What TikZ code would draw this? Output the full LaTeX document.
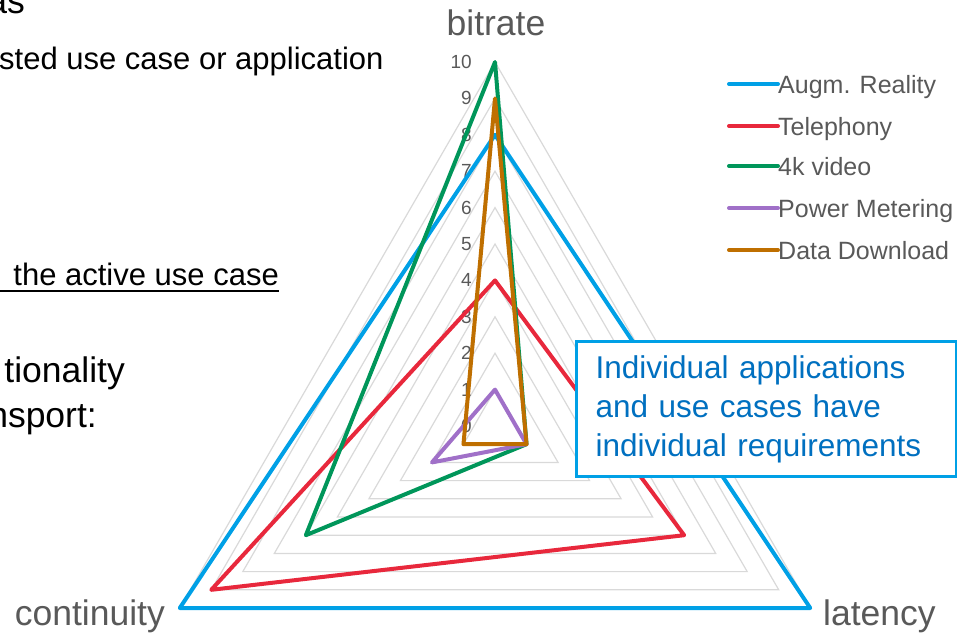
\documentclass[tikz,border=0pt]{standalone}
\usepackage{fontspec}
\setmainfont{Liberation Sans}
\definecolor{labelgray}{HTML}{595959}
\definecolor{gridgray}{HTML}{D9D9D9}
\definecolor{arblue}{HTML}{00A0E6}
\definecolor{telred}{HTML}{E8283C}
\definecolor{vidgreen}{HTML}{00965A}
\definecolor{meterpurple}{HTML}{A070C8}
\definecolor{dlbrown}{HTML}{BF6F00}
\definecolor{calloutblue}{HTML}{0070C0}
\newcommand\radarseries[4]{%
  \draw[series,#1] (270:{#2*36.4}) -- (30:{#3*36.4}) -- (150:{#4*36.4}) -- cycle;}
\begin{document}
\begin{tikzpicture}[x=1pt,y=-1pt,
  bodytext/.style={inner sep=0pt,font=\fontsize{31}{37}\selectfont},
  bigtext/.style={inner sep=0pt,font=\fontsize{35.5}{42}\selectfont},
  axislbl/.style={inner sep=0pt,text=labelgray,font=\fontsize{35.5}{42}\selectfont},
  ticklbl/.style={inner sep=0pt,text=labelgray,font=\fontsize{19}{22}\selectfont},
  legendtxt/.style={inner sep=0pt,text=labelgray,font=\fontsize{25}{30}\selectfont},
  legendline/.style={line width=4pt,line cap=round},
  gridln/.style={gridgray,line width=1.2pt},
  series/.style={line width=4pt,line join=round},
  callout/.style={draw=arblue,line width=3pt,fill=white,text=calloutblue,
    align=left,text width=342pt,inner xsep=19pt,inner ysep=14pt,
    minimum width=380pt,minimum height=135pt,
    font=\fontsize{31.5}{39}\selectfont}]
\useasboundingbox (0,0) rectangle (957,633);

% slide text on the left, partly cut by the frame
\node[bigtext,anchor=base east] (tAs) at (25,13) {as};
\node[bodytext,anchor=base west] (tApp) at (-1,69) {sted use case or application};
\node[bodytext,anchor=base east] (tActive) at (279,285) {the active use case};
\draw[line width=2pt] (0,291) -- (tActive.base east |- 0,291);
\node[bigtext,anchor=base east] (tFunc) at (125,382) {tionality};
\node[bigtext,anchor=base east] (tTrans) at (97,427) {nsport:};

% radar grid and series
\begin{scope}[shift={(495,426)}]
  \foreach \k in {1,...,10}
    \draw[gridln] (270:{\k*36.4}) -- (30:{\k*36.4}) -- (150:{\k*36.4}) -- cycle;
\end{scope}
\foreach \k in {0,...,10}
  \node[ticklbl,anchor=east] (tick\k) at (472,{426-\k*36.4}) {\k};
\begin{scope}[shift={(495,426)}]
  \radarseries{arblue}{8}{10}{10}
  \radarseries{telred}{4}{6}{9}
  \radarseries{vidgreen}{10}{1}{6}
  \radarseries{meterpurple}{1}{1}{2}
  \radarseries{dlbrown}{9}{1}{1}
\end{scope}

% axis titles
\node[axislbl,anchor=base] (axBitrate) at (496,35) {bitrate};
\node[axislbl,anchor=base west] (axLatency) at (823,625) {latency};
\node[axislbl,anchor=base east] (axCont) at (165,625) {continuity};

% legend
\coordinate (lg1) at (729,84);
\coordinate (lg2) at (729,126);
\coordinate (lg3) at (729,166);
\coordinate (lg4) at (729,208);
\coordinate (lg5) at (729,250);
\node[legendtxt,anchor=base west] (lt1) at (778,93) {Augm. Reality};
\node[legendtxt,anchor=base west] (lt2) at (778,135) {Telephony};
\node[legendtxt,anchor=base west] (lt3) at (778,175) {4k video};
\node[legendtxt,anchor=base west] (lt4) at (778,217) {Power Metering};
\node[legendtxt,anchor=base west] (lt5) at (778,259) {Data Download};
\draw[legendline,arblue] (lg1) -- (lg1 -| lt1.west);
\draw[legendline,telred] (lg2) -- (lg2 -| lt2.west);
\draw[legendline,vidgreen] (lg3) -- (lg3 -| lt3.west);
\draw[legendline,meterpurple] (lg4) -- (lg4 -| lt4.west);
\draw[legendline,dlbrown] (lg5) -- (lg5 -| lt5.west);

% callout
\node[callout,anchor=north west] (note) at (575,340)
  {Individual applications\\and use cases have\\individual requirements};
\end{tikzpicture}
\end{document}
